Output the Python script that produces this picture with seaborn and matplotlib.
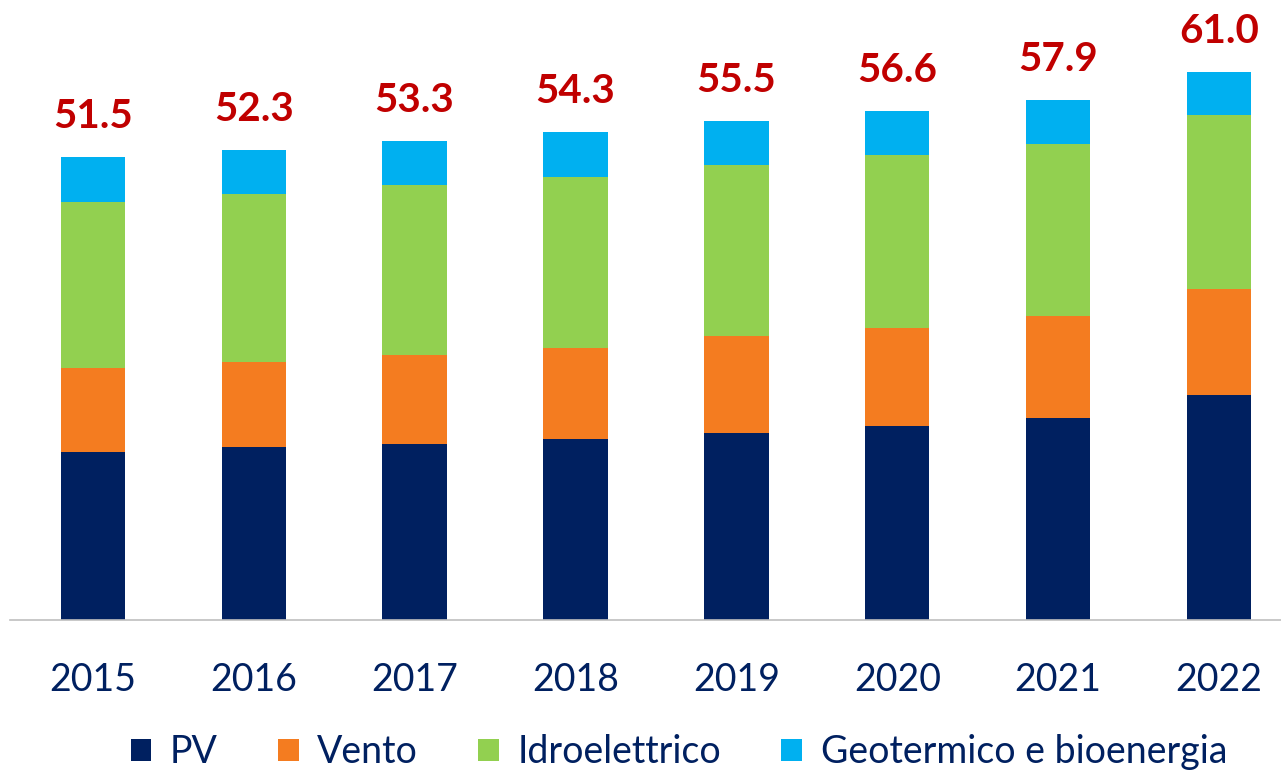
import numpy as np
import pandas as pd
import matplotlib
matplotlib.use('Agg')
import matplotlib.pyplot as plt
import seaborn as sns
from matplotlib.patches import Patch

# Values
years = ['2015', '2016', '2017', '2018', '2019', '2020', '2021', '2022']
pv = [18.7, 19.2, 19.6, 20.1, 20.8, 21.6, 22.5, 25.0]
vento = [9.3, 9.5, 9.9, 10.2, 10.8, 10.9, 11.3, 11.8]
idro = [18.5, 18.7, 18.9, 19.0, 19.0, 19.2, 19.2, 19.4]
geo = [5.0, 4.9, 4.9, 5.0, 4.9, 4.9, 4.9, 4.8]
totals = [51.5, 52.3, 53.3, 54.3, 55.5, 56.6, 57.9, 61.0]

series = ['PV', 'Vento', 'Idroelettrico', 'Geotermico e bioenergia']
colors = ['#002060', '#F47C20', '#92D050', '#00B0F0']
text_color = '#002060'

df = pd.DataFrame({'Anno': years, 'PV': pv, 'Vento': vento,
                   'Idroelettrico': idro, 'Geotermico e bioenergia': geo})

sns.set_theme(style='white')
plt.rcParams['font.family'] = ['Lato', 'DejaVu Sans']

fig = plt.figure(figsize=(12.81, 7.74), dpi=100)
ax = fig.add_axes([0.0078, 0.199, 0.9922, 0.801])

# stacked bars: draw cumulative sums back to front
cum = df[series].cumsum(axis=1)
for s, c in reversed(list(zip(series, colors))):
    sns.barplot(x=df['Anno'], y=cum[s], color=c, width=0.4, ax=ax,
                saturation=1, edgecolor='none')

# totals above each bar
for i, t in enumerate(totals):
    ax.annotate(f'{t:.1f}', (i, t), xytext=(0, 16), textcoords='offset points',
                ha='center', va='bottom', fontsize=29, fontweight='bold',
                color='#C00000')

ax.set_xlim(-0.515, 7.385)
ax.set_ylim(0, 69)
ax.set_xlabel('')
ax.set_ylabel('')
ax.set_yticks([])
for side in ['top', 'right', 'left']:
    ax.spines[side].set_visible(False)
ax.spines['bottom'].set_color('#BFBFBF')
ax.spines['bottom'].set_linewidth(1.2)
ax.tick_params(axis='x', length=0, pad=30, labelsize=27, labelcolor=text_color)

handles = [Patch(facecolor=c, edgecolor='none') for c in colors]
fig.legend(handles, series, loc='center', bbox_to_anchor=(0.53, 0.028),
           ncol=4, frameon=False, fontsize=27, labelcolor=text_color,
           handlelength=0.55, handleheight=0.55, handletextpad=0.5,
           columnspacing=1.6)

fig.savefig('out.png', dpi=100)
